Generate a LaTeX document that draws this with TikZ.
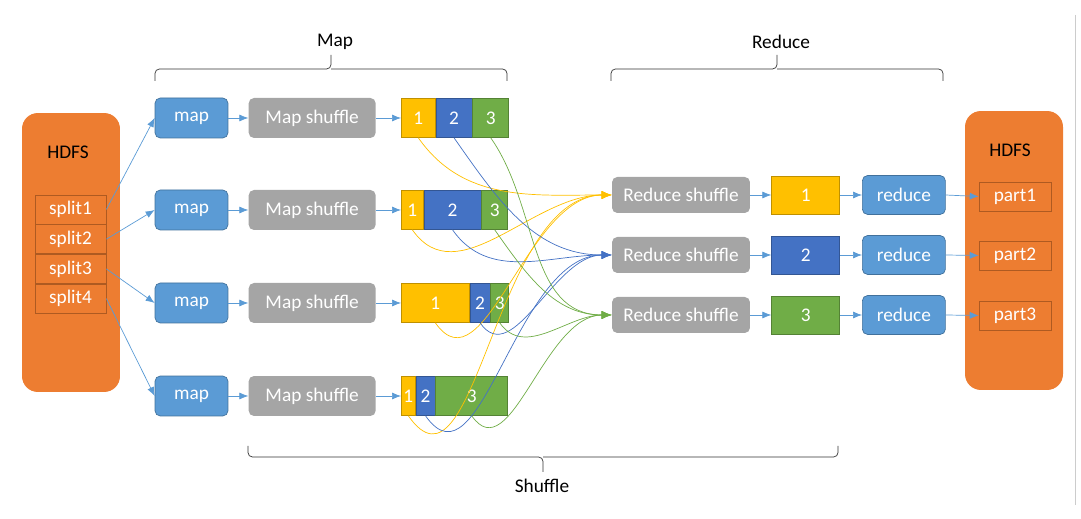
\documentclass[tikz,border=0pt]{standalone}
\usepackage{fontspec}
\setmainfont{Carlito}
\usetikzlibrary{arrows.meta,positioning}
\definecolor{hdfsorange}{HTML}{ED7D31}
\definecolor{splitborder}{HTML}{AE5A21}
\definecolor{mapblue}{HTML}{5B9BD5}
\definecolor{mapborder}{HTML}{41719C}
\definecolor{shufflegray}{HTML}{A5A5A5}
\definecolor{keyyellow}{HTML}{FFC000}
\definecolor{keyblue}{HTML}{4472C4}
\definecolor{keygreen}{HTML}{70AD47}
\tikzset{
	hdfsnode/.style = {rectangle, fill=hdfsorange, rounded corners=9pt,
		minimum width=19.6mm,
		minimum height=55.8mm},
	splitnode/.style = {rectangle, draw=splitborder, fill=hdfsorange, text=white, inner sep=0pt,
		minimum width=14.2mm,
		minimum height=5.8mm},
	mapnode/.style = {rectangle, draw=mapborder, fill=mapblue, text=white, rounded corners=3pt,
		minimum width=14.6mm,
		minimum height=8mm},
	shufflenode/.style = {rectangle, fill=shufflegray, text=white, rounded corners=3pt,
		minimum height=8mm},
	partnode/.style = {rectangle, text=white, inner sep=0pt, minimum height=7.8mm},
	yellowpart/.style = {partnode, fill=keyyellow, draw=keyyellow!75!black},
	bluepart/.style = {partnode, fill=keyblue, draw=keyblue!75!black},
	greenpart/.style = {partnode, fill=keygreen, draw=keygreen!75!black},
	arrow/.style = {draw=mapblue, -{Latex[length=1.8mm,width=1.4mm]}},
	shuffleflow/.style = {draw=#1, -{Latex[length=2mm,width=1.6mm]}, out=-55, in=180},
	bracket/.style = {draw=black!80, rounded corners=2.5pt},
}

\begin{document}
\begin{tikzpicture}[x=0.02cm, y=-0.02cm, font=\fontsize{11}{13}\selectfont]
	\useasboundingbox (0,0) rectangle (1081,519);
	%Nodes
	\node[hdfsnode] (hdfsL) at (71,252.5) {};
	\node (hdfsLtext) at (68,152) {HDFS};
	\node[splitnode] (split1) at (70.5,209.5) {split1};
	\node[splitnode] (split2) [below=0pt of split1] {split2};
	\node[splitnode] (split3) [below=0pt of split2] {split3};
	\node[splitnode] (split4) [below=0pt of split3] {split4};

	\node[mapnode] (map1) at (191.5,118) {map};
	\node[mapnode] (map2) at (191.5,210) {map};
	\node[mapnode] (map3) at (191.5,303) {map};
	\node[mapnode] (map4) at (191.5,396) {map};
	\node[shufflenode, minimum width=25.4mm] (ms1) [right=4mm of map1] {Map shuffle};
	\node[shufflenode, minimum width=25.4mm] (ms2) [right=4mm of map2] {Map shuffle};
	\node[shufflenode, minimum width=25.4mm] (ms3) [right=4mm of map3] {Map shuffle};
	\node[shufflenode, minimum width=25.4mm] (ms4) [right=4mm of map4] {Map shuffle};

	\node[yellowpart, minimum width=6.8mm] (p11) [right=5mm of ms1] {1};
	\node[bluepart, minimum width=7.2mm] (p12) [right=0pt of p11] {2};
	\node[greenpart, minimum width=7.2mm] (p13) [right=0pt of p12] {3};
	\node[yellowpart, minimum width=4.4mm] (p21) [right=5mm of ms2] {1};
	\node[bluepart, minimum width=11.4mm] (p22) [right=0pt of p21] {2};
	\node[greenpart, minimum width=5.2mm] (p23) [right=0pt of p22] {3};
	\node[yellowpart, minimum width=13.6mm] (p31) [right=5mm of ms3] {1};
	\node[bluepart, minimum width=4mm] (p32) [right=0pt of p31] {2};
	\node[greenpart, minimum width=3.6mm] (p33) [right=0pt of p32] {3};
	\node[yellowpart, minimum width=2.8mm] (p41) [right=5mm of ms4] {1};
	\node[bluepart, minimum width=3.8mm] (p42) [right=0pt of p41] {2};
	\node[greenpart, minimum width=14.4mm] (p43) [right=0pt of p42] {3};

	\node[shufflenode, minimum width=27.6mm, minimum height=7.2mm] (rs1) at (681,195) {Reduce shuffle};
	\node[shufflenode, minimum width=27.6mm, minimum height=7.2mm] (rs2) at (681,255) {Reduce shuffle};
	\node[shufflenode, minimum width=27.6mm, minimum height=7.2mm] (rs3) at (681,315) {Reduce shuffle};
	\node[yellowpart, minimum width=13.6mm, minimum height=7.6mm] (rp1) [right=4.2mm of rs1] {1};
	\node[bluepart, minimum width=13.6mm, minimum height=7.6mm] (rp2) [right=4.2mm of rs2] {2};
	\node[greenpart, minimum width=13.6mm, minimum height=7.6mm] (rp3) [right=4.2mm of rs3] {3};
	\node[mapnode, minimum width=16.6mm, minimum height=7.8mm] (red1) [right=4.4mm of rp1] {reduce};
	\node[mapnode, minimum width=16.6mm, minimum height=7.8mm] (red2) [right=4.4mm of rp2] {reduce};
	\node[mapnode, minimum width=16.6mm, minimum height=7.8mm] (red3) [right=4.4mm of rp3] {reduce};

	\node[hdfsnode] (hdfsR) at (1014,250.5) {};
	\node (hdfsRtext) at (1010,150) {HDFS};
	\node[splitnode, minimum width=14.4mm] (part1) at (1015,196.5) {part1};
	\node[splitnode, minimum width=14.4mm] (part2) at (1015,255.5) {part2};
	\node[splitnode, minimum width=14.4mm] (part3) at (1015,315.5) {part3};
	%Lines
	\draw[arrow] (split1.east) -- (map1.west);
	\draw[arrow] (split2.east) -- (map2.west);
	\draw[arrow] (split3.east) -- (map3.west);
	\draw[arrow] (split4.east) -- (map4.west);
	\draw[arrow] (map1.east) -- (ms1.west);
	\draw[arrow] (map2.east) -- (ms2.west);
	\draw[arrow] (map3.east) -- (ms3.west);
	\draw[arrow] (map4.east) -- (ms4.west);
	\draw[arrow] (ms1.east) -- (p11.west);
	\draw[arrow] (ms2.east) -- (p21.west);
	\draw[arrow] (ms3.east) -- (p31.west);
	\draw[arrow] (ms4.east) -- (p41.west);
	\draw[arrow] (rs1.east) -- (rp1.west);
	\draw[arrow] (rs2.east) -- (rp2.west);
	\draw[arrow] (rs3.east) -- (rp3.west);
	\draw[arrow] (rp1.east) -- (red1.west);
	\draw[arrow] (rp2.east) -- (red2.west);
	\draw[arrow] (rp3.east) -- (red3.west);
	\draw[arrow] (red1.east) -- (part1.west);
	\draw[arrow] (red2.east) -- (part2.west);
	\draw[arrow] (red3.east) -- (part3.west);
	%shuffle curves
	\draw[shuffleflow=keyyellow] (p11.south) to (rs1.west);
	\draw[shuffleflow=keyyellow] (p21.south) to (rs1.west);
	\draw[shuffleflow=keyyellow] (p31.south) to (rs1.west);
	\draw[shuffleflow=keyyellow] (p41.south) to (rs1.west);
	\draw[shuffleflow=keyblue] (p12.south) to (rs2.west);
	\draw[shuffleflow=keyblue] (p22.south) to (rs2.west);
	\draw[shuffleflow=keyblue] (p32.south) to (rs2.west);
	\draw[shuffleflow=keyblue] (p42.south) to (rs2.west);
	\draw[shuffleflow=keygreen] (p13.south) to (rs3.west);
	\draw[shuffleflow=keygreen] (p23.south) to (rs3.west);
	\draw[shuffleflow=keygreen] (p33.south) to (rs3.west);
	\draw[shuffleflow=keygreen] (p43.south) to (rs3.west);
	%braces
	\draw[bracket] (155,81) |- (331,69) -- (331,55);
	\draw[bracket] (507,81) |- (331,69);
	\draw[bracket] (611,81) |- (777,69) -- (777,55);
	\draw[bracket] (943,81) |- (777,69);
	\draw[bracket] (248,446) |- (543,457) -- (543,472);
	\draw[bracket] (838,446) |- (543,457);
	\node (maplabel) at (335,42) {Map};
	\node (reducelabel) at (781,42) {Reduce};
	\node (shufflelabel) at (542,486) {Shuffle};
	\draw[black!20] (1075,15) -- (1075,505);
\end{tikzpicture}
\end{document}
